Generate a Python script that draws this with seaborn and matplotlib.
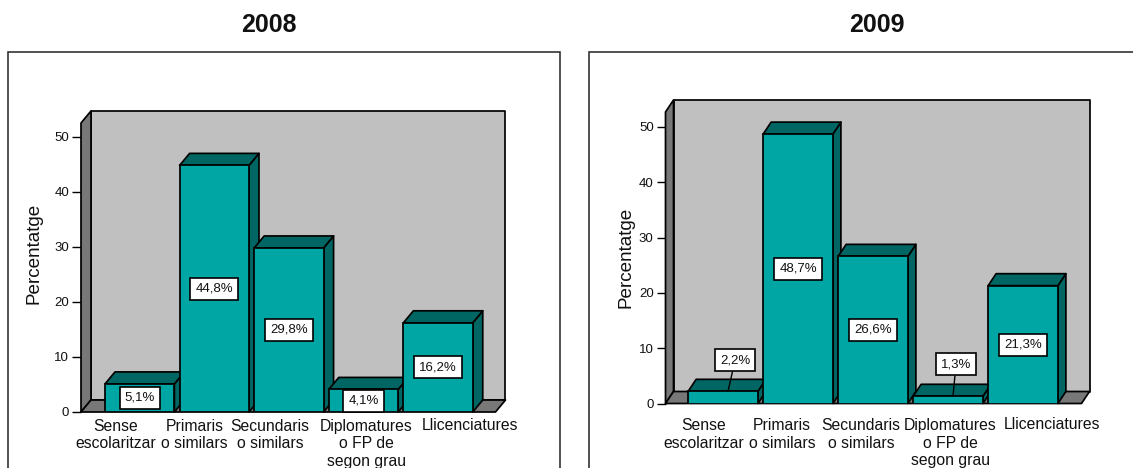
import matplotlib
matplotlib.use("Agg")
import matplotlib.pyplot as plt
from matplotlib.patches import Polygon, Rectangle
from matplotlib.transforms import ScaledTranslation
import seaborn as sns

categories = ["Sense\nescolaritzar", "Primaris\no similars", "Secundaris\no similars",
              "Diplomatures\no FP de\nsegon grau", "Llicenciatures"]
values_2008 = [5.1, 44.8, 29.8, 4.1, 16.2]
values_2009 = [2.2, 48.7, 26.6, 1.3, 21.3]
value_labels_2008 = ["5,1%", "44,8%", "29,8%", "4,1%", "16,2%"]
value_labels_2009 = ["2,2%", "48,7%", "26,6%", "1,3%", "21,3%"]
y_ticks = [0, 10, 20, 30, 40, 50]

W, H = 1133, 468
FRONT = "#00A6A3"
SHADE = "#006663"
WALL = "#C0C0C0"
SIDE_WALL = "#787878"
SANS = "Liberation Sans"
EDGE = 1.25

sns.set_theme(style="white", rc={"font.family": SANS})
fig = plt.figure(figsize=(W / 100, H / 100), dpi=100, facecolor="white")


def poly(ax, pts, fc, z):
    ax.add_patch(Polygon(pts, closed=True, facecolor=fc, edgecolor="black",
                         linewidth=EDGE, zorder=z, clip_on=False, joinstyle="round"))


def panel(title, title_x, frame, box, ymax, xlim, depth, values, labels,
          tick_shift, callouts, ylabel_x, ylabel_y):
    # Outer frame runs past the lower edge of the figure
    fig.add_artist(Rectangle((frame[0] / W, -0.05), (frame[1] - frame[0]) / W,
                             1 - frame[2] / H + 0.05, transform=fig.transFigure,
                             facecolor="white", edgecolor="#333333", linewidth=1.2, zorder=-1))
    fig.text(title_x / W, 1 - 25.5 / H, title, ha="center", va="center", fontsize=18,
             fontweight="bold", family=["Liberation Sans Narrow", SANS], color="#111111")

    left, right, top, bottom = box
    ax = fig.add_axes([left / W, 1 - bottom / H, (right - left) / W, (bottom - top) / H])
    ax.patch.set_visible(False)
    sns.barplot(x=categories, y=values, color=FRONT, saturation=1, width=0.93,
                edgecolor="black", linewidth=EDGE, ax=ax, zorder=5)
    ax.set_xlim(*xlim)
    ax.set_ylim(0, ymax)
    for s in ax.spines.values():
        s.set_visible(False)

    x_per_px = (xlim[1] - xlim[0]) / (right - left)
    dx = depth[0] * x_per_px
    dy = depth[1] * ymax / (bottom - top)

    # Box walls and floor
    x0, x1 = xlim
    poly(ax, [(x0 + dx, dy), (x1 + dx, dy), (x1 + dx, ymax + dy), (x0 + dx, ymax + dy)], WALL, 1)
    poly(ax, [(x0, 0), (x0 + dx, dy), (x0 + dx, ymax + dy), (x0, ymax)], SIDE_WALL, 2)
    poly(ax, [(x0, 0), (x1, 0), (x1 + dx, dy), (x0 + dx, dy)], SIDE_WALL, 2)

    # Top and side faces give each bar its depth; later bars overlap earlier ones
    for i, bar in enumerate(ax.patches[:len(values)]):
        xa, xb, h = bar.get_x(), bar.get_x() + bar.get_width(), bar.get_height()
        z = 5 + 3 * i
        poly(ax, [(xb, 0), (xb + dx, dy), (xb + dx, h + dy), (xb, h)], SHADE, z)
        poly(ax, [(xa, h), (xb, h), (xb + dx, h + dy), (xa + dx, h + dy)], SHADE, z)
        bar.set_zorder(z + 1)

        box_style = dict(boxstyle="square,pad=0.38", facecolor="white", edgecolor="black",
                         linewidth=1.2)
        xc = xa + bar.get_width() / 2
        if i in callouts:
            end_px, off_x, off_y = callouts[i]
            ax.annotate(labels[i], xy=(xc + end_px * x_per_px, h), xytext=(off_x, off_y),
                        textcoords="offset pixels", ha="center", va="center", fontsize=9.5,
                        color="#111111", bbox=box_style,
                        arrowprops=dict(arrowstyle="-", color="black", lw=1.0,
                                        relpos=(0.5, 0.5), shrinkA=0, shrinkB=0),
                        zorder=30)
        else:
            ax.text(xc, h / 2, labels[i], ha="center", va="center", fontsize=9.5,
                    color="#111111", bbox=box_style, zorder=z + 2)

    ax.set_yticks(y_ticks)
    ax.tick_params(axis="y", length=6.5, width=1.0, color="black", pad=2,
                   labelsize=9.5, labelcolor="#111111", left=True)
    ax.tick_params(axis="x", length=0, pad=5, labelsize=11.3, labelcolor="#111111")
    ax.set_xticks(range(len(categories)))
    ax.set_xticklabels(categories, linespacing=1.2, va="top", ha="center")
    for lab, (sx, sy) in zip(ax.get_xticklabels(), tick_shift):
        lab.set_transform(lab.get_transform() +
                          ScaledTranslation(sx / 100, sy / 100, fig.dpi_scale_trans))
    fig.text(ylabel_x / W, 1 - ylabel_y / H, "Percentatge", rotation=90, ha="center",
             va="center", fontsize=13.6, color="#111111", family=SANS)
    ax.set_xlabel("")
    ax.set_ylabel("")


panel("2008", 269, (8, 560, 52), (81, 495.5, 123, 412), 52.5, (-0.787, 4.77), (10, 12),
      values_2008, value_labels_2008,
      [(-24, 0), (-20, 0), (-19, 0), (3, 0), (32, 1)], {}, 34, 253)
panel("2009", 877, (589, 1145, 52), (665.5, 1081.5, 112, 403.5), 52.7, (-0.767, 4.78), (8, 12),
      values_2009, value_labels_2009,
      [(-19, -8), (-16, -8), (-12, -8), (2, -8), (29, -7)],
      {0: (5, 7, 31), 3: (5, 3, 32)}, 626, 257)

fig.savefig("out.png", dpi=100)
